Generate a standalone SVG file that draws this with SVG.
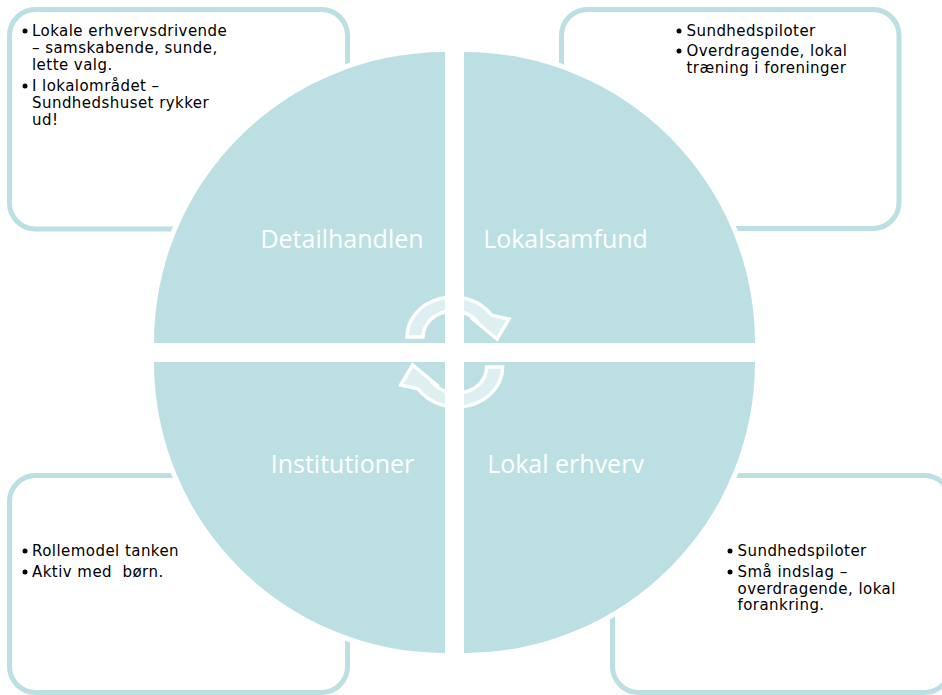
<svg xmlns="http://www.w3.org/2000/svg" xmlns:xlink="http://www.w3.org/1999/xlink" width="942" height="695" viewBox="0 0 942 695">
  <style>
    .box { fill: #ffffff; stroke: #BBDFE2; stroke-width: 5; }
    .quad { fill: #BBDFE2; stroke: #ffffff; stroke-width: 10; paint-order: stroke; }
    .qlabel { font-family: "Open Sans", "Liberation Sans", sans-serif; font-size: 25px; fill: #ffffff; text-anchor: middle; }
    .txt { font-family: "DejaVu Sans", Verdana, sans-serif; font-size: 15px; letter-spacing: 0.45px; fill: #000000; white-space: pre; }
    .dot { fill: #000000; }
    .arrow { fill: #ffffff; fill-opacity: 0.5; stroke: #ffffff; stroke-width: 3.5; stroke-linejoin: miter; }
  </style>
  <defs>
    <path id="arr" class="arrow" d="M407,337 A46,40 0 0 1 491.6,315.2 L509,319 L497,339 L471,317.5 L478.2,322.8 A30,26 0 0 0 423,337 Z"/>
  </defs>
  <rect width="942" height="695" fill="#ffffff"/>

  <g id="box-tl">
    <rect class="box" x="9.5" y="9.5" width="338" height="219.5" rx="26"/>
  </g>
  <g id="box-tr">
    <rect class="box" x="561.5" y="9.5" width="337.5" height="219" rx="26"/>
  </g>
  <g id="box-bl">
    <rect class="box" x="9.5" y="475.5" width="338" height="217" rx="26"/>
  </g>
  <g id="box-br">
    <rect class="box" x="612.5" y="475.5" width="338" height="217" rx="26"/>
  </g>

  <g id="quad-detailhandlen">
    <path class="quad" d="M445,343 L154,343 A291,291 0 0 1 445,52 Z"/>
    <text class="qlabel" x="342" y="248">Detailhandlen</text>
  </g>
  <g id="quad-lokalsamfund">
    <path class="quad" d="M464,343 L464,52 A291,291 0 0 1 755,343 Z"/>
    <text class="qlabel" x="565.5" y="248">Lokalsamfund</text>
  </g>
  <g id="quad-institutioner">
    <path class="quad" d="M445,362 L445,653 A291,291 0 0 1 154,362 Z"/>
    <text class="qlabel" x="342.5" y="473">Institutioner</text>
  </g>
  <g id="quad-lokal-erhverv">
    <path class="quad" d="M464,362 L755,362 A291,291 0 0 1 464,653 Z"/>
    <text class="qlabel" x="565.5" y="473">Lokal erhverv</text>
  </g>

  <g id="connectors">
    <use xlink:href="#arr" href="#arr"/>
    <use xlink:href="#arr" href="#arr" transform="rotate(180 454.8 352)"/>
  </g>

  <g id="text-tl">
    <circle class="dot" cx="25" cy="31" r="2.5"/>
    <text class="txt" x="32" y="36">Lokale erhvervsdrivende</text>
    <text class="txt" x="32" y="53">– samskabende, sunde,</text>
    <text class="txt" x="32" y="70">lette valg.</text>
    <circle class="dot" cx="25" cy="86" r="2.5"/>
    <text class="txt" x="32" y="91">I lokalområdet –</text>
    <text class="txt" x="32" y="108">Sundhedshuset rykker</text>
    <text class="txt" x="32" y="125">ud!</text>
  </g>
  <g id="text-tr">
    <circle class="dot" cx="679" cy="31" r="2.5"/>
    <text class="txt" x="686.5" y="36">Sundhedspiloter</text>
    <circle class="dot" cx="679" cy="51" r="2.5"/>
    <text class="txt" x="686.5" y="56">Overdragende, lokal</text>
    <text class="txt" x="686.5" y="73">træning i foreninger</text>
  </g>
  <g id="text-bl">
    <circle class="dot" cx="25" cy="551" r="2.5"/>
    <text class="txt" x="32" y="556">Rollemodel tanken</text>
    <circle class="dot" cx="25" cy="572" r="2.5"/>
    <text class="txt" x="32" y="577">Aktiv med  børn.</text>
  </g>
  <g id="text-br">
    <circle class="dot" cx="730" cy="551" r="2.5"/>
    <text class="txt" x="737.5" y="556">Sundhedspiloter</text>
    <circle class="dot" cx="730" cy="572" r="2.5"/>
    <text class="txt" x="737.5" y="577">Små indslag –</text>
    <text class="txt" x="737.5" y="593.5">overdragende, lokal</text>
    <text class="txt" x="737.5" y="610">forankring.</text>
  </g>
</svg>
